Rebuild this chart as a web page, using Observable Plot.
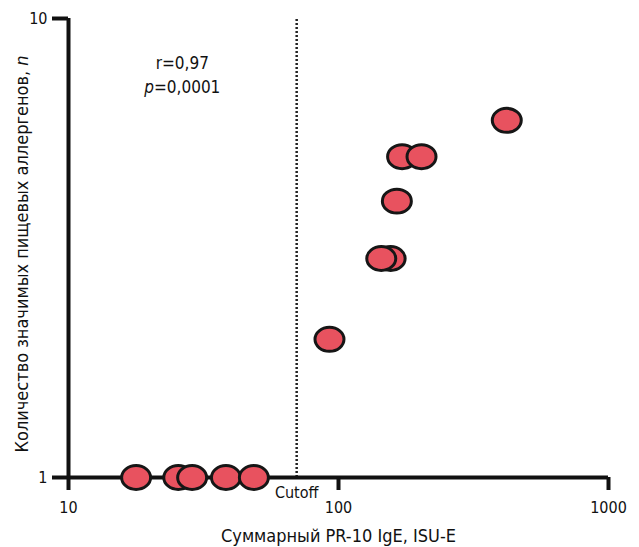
<!DOCTYPE html>
<html><head><meta charset="utf-8">
<script src="https://cdn.jsdelivr.net/npm/d3@7"></script>
<script src="https://cdn.jsdelivr.net/npm/@observablehq/plot@0.6"></script>
<style>
body{margin:0;background:#fff;}
svg{font-family:"Liberation Sans Narrow","DejaVu Sans Condensed",sans-serif;}
</style></head>
<body><div id="chart"></div>
<script>
const igeValues = [17.8, 25.5, 28.7, 38.3, 48.6, 92.6, 156, 144, 164.5, 172, 203, 420];
const allergenCounts = [1, 1, 1, 1, 1, 2, 3, 3, 4, 5, 5, 6];
const xTicks = [10, 100, 1000];
const yTicks = [1, 10];
const cutoff = [70];
const statLabels = ["r=0,97", "p=0,0001"];
const statX = [26.4, 26.4];
const statY = [7.98, 7.07];
const xLabel = "Суммарный PR-10 IgE, ISU-E";
const yLabel = "Количество значимых пищевых аллергенов, n";
const cutoffLabel = "Cutoff";

const points = igeValues.map((v, i) => ({x: v, y: allergenCounts[i]}));
const stats = statLabels.map((t, i) => ({t, x: statX[i], y: statY[i]}));

const ellipse = {
  draw(ctx, size) {
    const r = Math.sqrt(size / Math.PI);
    const rx = r * 1.115, ry = r * 0.92, k = 0.5523;
    ctx.moveTo(rx, 0);
    ctx.bezierCurveTo(rx, k * ry, k * rx, ry, 0, ry);
    ctx.bezierCurveTo(-k * rx, ry, -rx, k * ry, -rx, 0);
    ctx.bezierCurveTo(-rx, -k * ry, -k * rx, -ry, 0, -ry);
    ctx.bezierCurveTo(k * rx, -ry, rx, -k * ry, rx, 0);
    ctx.closePath();
  }
};

const chart = Plot.plot({
  width: 639,
  height: 547,
  marginLeft: 68,
  marginRight: 31,
  marginTop: 18,
  marginBottom: 70,
  style: {fontFamily: '"Liberation Sans Narrow","DejaVu Sans Condensed",sans-serif', fontSize: "16px", color: "#111"},
  x: {type: "log", domain: [10, 1000]},
  y: {type: "log", domain: [1, 10]},
  marks: [
    Plot.ruleX(cutoff, {y1: 1, y2: 10, stroke: "#222", strokeWidth: 2.5, strokeDasharray: "2,2"}),
    Plot.ruleY([1], {x1: 10, x2: 1000, stroke: "#111", strokeWidth: 4}),
    Plot.ruleX([10], {y1: 1, y2: 10, stroke: "#111", strokeWidth: 4}),
    Plot.axisX(xTicks, {tickSize: 13, tickPadding: 11, strokeWidth: 4, tickFormat: d => String(d), fontSize: 16, label: null, stroke: "#111"}),
    Plot.axisY(yTicks, {tickSize: 16, tickPadding: 5, strokeWidth: 4, tickFormat: d => String(d), fontSize: 16, label: null, stroke: "#111"}),
    Plot.text(cutoff, {x: d => d, y: 1, text: () => cutoffLabel, dy: 15, fontSize: 16, fill: "#111"}),
    Plot.text(stats, {x: "x", y: "y", text: "t", fontSize: 17, fill: "#111"}),
    Plot.text([xLabel], {frameAnchor: "bottom", text: d => d, dy: 64, fontSize: 18, fill: "#111"}),
    Plot.text([yLabel], {frameAnchor: "left", textAnchor: "middle", text: d => d, dx: -46, dy: 6, rotate: -90, fontSize: 18, fill: "#111"}),
    Plot.dot(points, {x: "x", y: "y", r: 13, symbol: ellipse, fill: "#e8525f", stroke: "#161616", strokeWidth: 3})
  ]
});

// thicker axis ticks
d3.select(chart).selectAll('g[aria-label="x-axis tick"], g[aria-label="y-axis tick"]')
  .attr("stroke-width", 4);
d3.select(chart).selectAll('g[aria-label="x-axis tick"] path, g[aria-label="y-axis tick"] path')
  .attr("stroke-width", 4);

// italicize variable letters
d3.select(chart).selectAll("text").each(function() {
  const el = d3.select(this);
  const txt = el.text();
  if (txt === "p=0,0001") {
    el.text(null);
    el.append("tspan").attr("font-style", "italic").text("p");
    el.append("tspan").text("=0,0001");
  } else if (txt === yLabel) {
    el.text(null);
    el.append("tspan").text(yLabel.slice(0, -1));
    el.append("tspan").attr("font-style", "italic").text("n");
  }
});

document.getElementById("chart").appendChild(chart);
</script></body></html>
